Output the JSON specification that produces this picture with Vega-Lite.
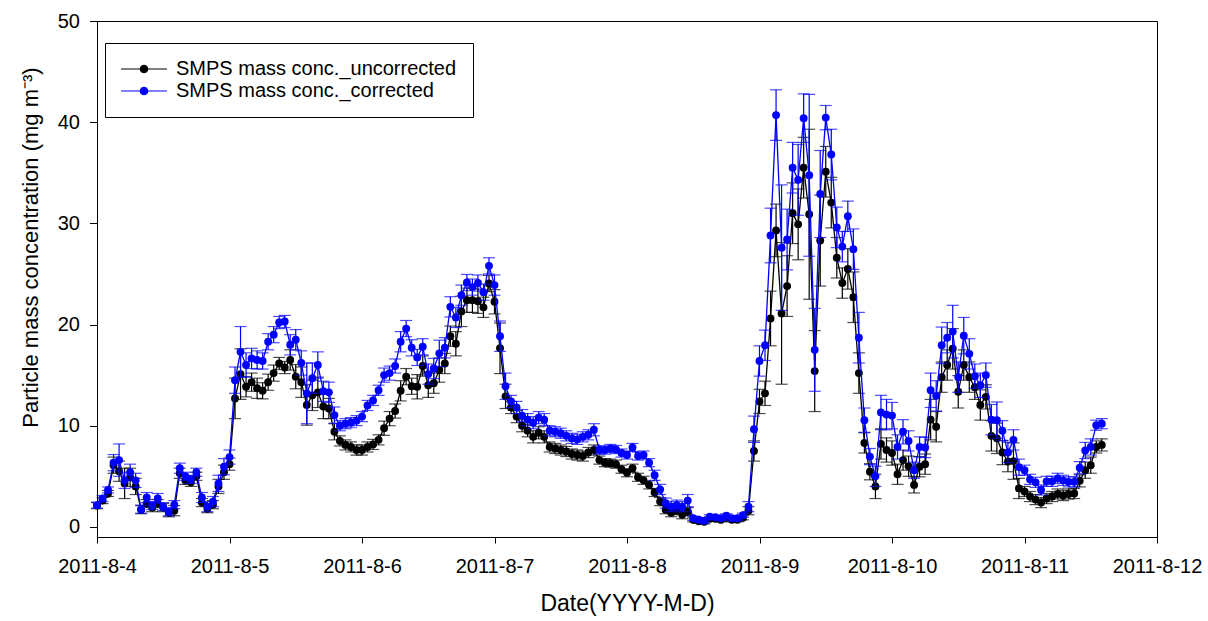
{
"$schema": "https://vega.github.io/schema/vega-lite/v6.json",
"width": 1060, "height": 516,
"autosize": {"type": "none"},
"padding": {"left": 97, "top": 21, "right": 51, "bottom": 84},
"background": "white",
"data": {"values": [
{"t":"2011-08-04T00:00","u":2.1,"ue":0.3,"c":2.15,"ce":0.3},
{"t":"2011-08-04T01:00","u":2.6,"ue":0.3,"c":2.8,"ce":0.3},
{"t":"2011-08-04T02:00","u":3.3,"ue":0.3,"c":3.65,"ce":0.3},
{"t":"2011-08-04T03:00","u":6.1,"ue":0.8,"c":6.35,"ce":0.8},
{"t":"2011-08-04T04:00","u":5.5,"ue":1.0,"c":6.6,"ce":1.6},
{"t":"2011-08-04T05:00","u":4.3,"ue":1.5,"c":4.6,"ce":0.8},
{"t":"2011-08-04T06:00","u":4.9,"ue":0.9,"c":5.4,"ce":0.8},
{"t":"2011-08-04T07:00","u":4.0,"ue":0.8,"c":4.6,"ce":0.7},
{"t":"2011-08-04T08:00","u":1.7,"ue":0.4,"c":1.75,"ce":0.4},
{"t":"2011-08-04T09:00","u":2.3,"ue":0.4,"c":2.9,"ce":0.5},
{"t":"2011-08-04T10:00","u":1.9,"ue":0.4,"c":2.1,"ce":0.4},
{"t":"2011-08-04T11:00","u":2.3,"ue":0.4,"c":2.8,"ce":0.5},
{"t":"2011-08-04T12:00","u":1.9,"ue":0.4,"c":2.0,"ce":0.4},
{"t":"2011-08-04T13:00","u":1.4,"ue":0.4,"c":1.5,"ce":0.4},
{"t":"2011-08-04T14:00","u":1.6,"ue":0.5,"c":2.2,"ce":0.4},
{"t":"2011-08-04T15:00","u":5.3,"ue":0.5,"c":5.8,"ce":0.5},
{"t":"2011-08-04T16:00","u":4.6,"ue":0.4,"c":5.0,"ce":0.4},
{"t":"2011-08-04T17:00","u":4.4,"ue":0.4,"c":4.7,"ce":0.4},
{"t":"2011-08-04T18:00","u":5.0,"ue":0.4,"c":5.4,"ce":0.4},
{"t":"2011-08-04T19:00","u":2.4,"ue":0.4,"c":2.9,"ce":0.5},
{"t":"2011-08-04T20:00","u":1.8,"ue":0.4,"c":2.0,"ce":0.5},
{"t":"2011-08-04T21:00","u":2.2,"ue":0.4,"c":2.5,"ce":0.5},
{"t":"2011-08-04T22:00","u":4.0,"ue":0.7,"c":4.3,"ce":0.8},
{"t":"2011-08-04T23:00","u":5.4,"ue":0.7,"c":5.95,"ce":0.8},
{"t":"2011-08-05T00:00","u":6.2,"ue":0.6,"c":6.9,"ce":0.7},
{"t":"2011-08-05T01:00","u":12.7,"ue":2.0,"c":14.5,"ce":1.3},
{"t":"2011-08-05T02:00","u":15.1,"ue":2.5,"c":17.3,"ce":2.5},
{"t":"2011-08-05T03:00","u":13.85,"ue":1.0,"c":16.0,"ce":1.2},
{"t":"2011-08-05T04:00","u":14.3,"ue":0.9,"c":16.65,"ce":1.0},
{"t":"2011-08-05T05:00","u":13.7,"ue":1.0,"c":16.5,"ce":0.9},
{"t":"2011-08-05T06:00","u":13.45,"ue":0.8,"c":16.4,"ce":0.8},
{"t":"2011-08-05T07:00","u":14.3,"ue":0.8,"c":18.3,"ce":0.8},
{"t":"2011-08-05T08:00","u":15.2,"ue":0.8,"c":19.0,"ce":0.8},
{"t":"2011-08-05T09:00","u":16.15,"ue":0.6,"c":20.2,"ce":0.6},
{"t":"2011-08-05T10:00","u":15.75,"ue":0.6,"c":20.3,"ce":0.6},
{"t":"2011-08-05T11:00","u":16.5,"ue":1.0,"c":18.0,"ce":1.0},
{"t":"2011-08-05T12:00","u":14.85,"ue":1.2,"c":18.5,"ce":1.0},
{"t":"2011-08-05T13:00","u":14.3,"ue":1.5,"c":16.2,"ce":1.2},
{"t":"2011-08-05T14:00","u":12.05,"ue":2.0,"c":13.2,"ce":3.0},
{"t":"2011-08-05T15:00","u":13.0,"ue":1.5,"c":14.7,"ce":1.5},
{"t":"2011-08-05T16:00","u":13.3,"ue":1.5,"c":16.0,"ce":1.3},
{"t":"2011-08-05T17:00","u":11.9,"ue":1.2,"c":13.4,"ce":1.0},
{"t":"2011-08-05T18:00","u":11.7,"ue":1.0,"c":13.3,"ce":1.0},
{"t":"2011-08-05T19:00","u":9.4,"ue":0.8,"c":11.05,"ce":0.8},
{"t":"2011-08-05T20:00","u":8.5,"ue":0.5,"c":10.0,"ce":0.5},
{"t":"2011-08-05T21:00","u":8.1,"ue":0.5,"c":10.2,"ce":0.5},
{"t":"2011-08-05T22:00","u":7.9,"ue":0.5,"c":10.3,"ce":0.5},
{"t":"2011-08-05T23:00","u":7.6,"ue":0.5,"c":10.5,"ce":0.5},
{"t":"2011-08-06T00:00","u":7.6,"ue":0.5,"c":10.9,"ce":0.5},
{"t":"2011-08-06T01:00","u":7.9,"ue":0.5,"c":12.0,"ce":0.5},
{"t":"2011-08-06T02:00","u":8.15,"ue":0.5,"c":12.5,"ce":0.5},
{"t":"2011-08-06T03:00","u":8.6,"ue":0.5,"c":13.5,"ce":0.5},
{"t":"2011-08-06T04:00","u":9.75,"ue":0.7,"c":15.0,"ce":0.7},
{"t":"2011-08-06T05:00","u":10.7,"ue":0.7,"c":15.2,"ce":0.7},
{"t":"2011-08-06T06:00","u":11.45,"ue":0.7,"c":15.9,"ce":0.7},
{"t":"2011-08-06T07:00","u":13.45,"ue":1.0,"c":18.3,"ce":1.0},
{"t":"2011-08-06T08:00","u":14.85,"ue":0.8,"c":19.6,"ce":0.8},
{"t":"2011-08-06T09:00","u":13.9,"ue":0.8,"c":17.7,"ce":0.8},
{"t":"2011-08-06T10:00","u":13.85,"ue":1.2,"c":16.75,"ce":0.8},
{"t":"2011-08-06T11:00","u":15.9,"ue":1.0,"c":17.8,"ce":0.8},
{"t":"2011-08-06T12:00","u":14.0,"ue":1.2,"c":15.1,"ce":1.0},
{"t":"2011-08-06T13:00","u":14.2,"ue":1.0,"c":15.65,"ce":1.0},
{"t":"2011-08-06T14:00","u":15.5,"ue":1.2,"c":17.15,"ce":1.3},
{"t":"2011-08-06T15:00","u":16.15,"ue":1.0,"c":17.7,"ce":1.0},
{"t":"2011-08-06T16:00","u":18.85,"ue":1.0,"c":21.75,"ce":1.0},
{"t":"2011-08-06T17:00","u":18.1,"ue":1.2,"c":20.7,"ce":1.0},
{"t":"2011-08-06T18:00","u":21.3,"ue":1.5,"c":22.9,"ce":1.0},
{"t":"2011-08-06T19:00","u":22.4,"ue":1.2,"c":24.15,"ce":0.8},
{"t":"2011-08-06T20:00","u":22.4,"ue":1.2,"c":23.7,"ce":0.8},
{"t":"2011-08-06T21:00","u":22.3,"ue":1.2,"c":24.1,"ce":0.8},
{"t":"2011-08-06T22:00","u":21.7,"ue":1.0,"c":23.2,"ce":0.8},
{"t":"2011-08-06T23:00","u":24.05,"ue":0.8,"c":25.8,"ce":0.8},
{"t":"2011-08-07T00:00","u":22.25,"ue":1.2,"c":23.9,"ce":1.0},
{"t":"2011-08-07T01:00","u":17.65,"ue":2.5,"c":18.85,"ce":1.5},
{"t":"2011-08-07T02:00","u":12.9,"ue":1.2,"c":13.9,"ce":1.3},
{"t":"2011-08-07T03:00","u":11.8,"ue":0.6,"c":12.4,"ce":0.6},
{"t":"2011-08-07T04:00","u":10.9,"ue":0.6,"c":11.8,"ce":0.6},
{"t":"2011-08-07T05:00","u":10.0,"ue":0.6,"c":11.0,"ce":0.6},
{"t":"2011-08-07T06:00","u":9.5,"ue":0.6,"c":10.6,"ce":0.6},
{"t":"2011-08-07T07:00","u":8.9,"ue":0.6,"c":10.3,"ce":0.6},
{"t":"2011-08-07T08:00","u":9.3,"ue":0.6,"c":10.8,"ce":0.6},
{"t":"2011-08-07T09:00","u":8.9,"ue":0.6,"c":10.6,"ce":0.6},
{"t":"2011-08-07T10:00","u":7.9,"ue":0.5,"c":9.5,"ce":0.5},
{"t":"2011-08-07T11:00","u":7.75,"ue":0.5,"c":9.4,"ce":0.5},
{"t":"2011-08-07T12:00","u":7.6,"ue":0.5,"c":9.25,"ce":0.5},
{"t":"2011-08-07T13:00","u":7.45,"ue":0.5,"c":9.0,"ce":0.5},
{"t":"2011-08-07T14:00","u":7.2,"ue":0.5,"c":8.75,"ce":0.5},
{"t":"2011-08-07T15:00","u":7.1,"ue":0.5,"c":8.65,"ce":0.5},
{"t":"2011-08-07T16:00","u":7.0,"ue":0.5,"c":8.9,"ce":0.5},
{"t":"2011-08-07T17:00","u":7.35,"ue":0.5,"c":9.1,"ce":0.5},
{"t":"2011-08-07T18:00","u":7.6,"ue":0.5,"c":9.6,"ce":0.6},
{"t":"2011-08-07T19:00","u":6.6,"ue":0.4,"c":7.6,"ce":0.4},
{"t":"2011-08-07T20:00","u":6.35,"ue":0.4,"c":7.6,"ce":0.4},
{"t":"2011-08-07T21:00","u":6.3,"ue":0.4,"c":7.75,"ce":0.4},
{"t":"2011-08-07T22:00","u":6.2,"ue":0.4,"c":7.65,"ce":0.4},
{"t":"2011-08-07T23:00","u":5.7,"ue":0.4,"c":7.3,"ce":0.4},
{"t":"2011-08-08T00:00","u":5.35,"ue":0.4,"c":7.1,"ce":0.4},
{"t":"2011-08-08T01:00","u":5.8,"ue":0.4,"c":7.85,"ce":0.4},
{"t":"2011-08-08T02:00","u":4.9,"ue":0.4,"c":7.0,"ce":0.4},
{"t":"2011-08-08T03:00","u":4.6,"ue":0.4,"c":7.1,"ce":0.4},
{"t":"2011-08-08T04:00","u":4.15,"ue":0.4,"c":6.35,"ce":0.4},
{"t":"2011-08-08T05:00","u":3.4,"ue":0.4,"c":5.1,"ce":0.5},
{"t":"2011-08-08T06:00","u":2.5,"ue":0.4,"c":3.7,"ce":0.5},
{"t":"2011-08-08T07:00","u":1.7,"ue":0.4,"c":2.35,"ce":0.5},
{"t":"2011-08-08T08:00","u":1.4,"ue":0.4,"c":2.0,"ce":0.5},
{"t":"2011-08-08T09:00","u":1.6,"ue":0.4,"c":2.15,"ce":0.5},
{"t":"2011-08-08T10:00","u":1.2,"ue":0.4,"c":2.0,"ce":0.5},
{"t":"2011-08-08T11:00","u":1.5,"ue":0.4,"c":2.6,"ce":0.6},
{"t":"2011-08-08T12:00","u":0.7,"ue":0.2,"c":0.85,"ce":0.2},
{"t":"2011-08-08T13:00","u":0.55,"ue":0.2,"c":0.7,"ce":0.2},
{"t":"2011-08-08T14:00","u":0.5,"ue":0.2,"c":0.6,"ce":0.2},
{"t":"2011-08-08T15:00","u":0.8,"ue":0.2,"c":1.0,"ce":0.2},
{"t":"2011-08-08T16:00","u":0.8,"ue":0.2,"c":0.95,"ce":0.2},
{"t":"2011-08-08T17:00","u":0.7,"ue":0.2,"c":0.85,"ce":0.2},
{"t":"2011-08-08T18:00","u":0.9,"ue":0.2,"c":1.1,"ce":0.2},
{"t":"2011-08-08T19:00","u":0.7,"ue":0.2,"c":0.85,"ce":0.2},
{"t":"2011-08-08T20:00","u":0.7,"ue":0.2,"c":0.85,"ce":0.2},
{"t":"2011-08-08T21:00","u":0.9,"ue":0.2,"c":1.15,"ce":0.2},
{"t":"2011-08-08T22:00","u":1.6,"ue":0.4,"c":2.0,"ce":0.5},
{"t":"2011-08-08T23:00","u":7.5,"ue":1.0,"c":9.65,"ce":1.3},
{"t":"2011-08-09T00:00","u":12.4,"ue":1.2,"c":16.4,"ce":1.5},
{"t":"2011-08-09T01:00","u":13.2,"ue":1.2,"c":17.95,"ce":1.5},
{"t":"2011-08-09T02:00","u":20.6,"ue":2.7,"c":28.8,"ce":2.7},
{"t":"2011-08-09T03:00","u":29.3,"ue":2.6,"c":40.7,"ce":2.5},
{"t":"2011-08-09T04:00","u":21.1,"ue":7.0,"c":27.6,"ce":6.2},
{"t":"2011-08-09T05:00","u":23.8,"ue":3.0,"c":28.4,"ce":3.0},
{"t":"2011-08-09T06:00","u":31.0,"ue":3.0,"c":35.5,"ce":2.5},
{"t":"2011-08-09T07:00","u":29.9,"ue":3.5,"c":34.3,"ce":3.5},
{"t":"2011-08-09T08:00","u":35.5,"ue":3.0,"c":40.4,"ce":2.4},
{"t":"2011-08-09T09:00","u":30.9,"ue":8.4,"c":34.75,"ce":8.0},
{"t":"2011-08-09T10:00","u":15.4,"ue":4.0,"c":17.5,"ce":4.1},
{"t":"2011-08-09T11:00","u":28.3,"ue":4.5,"c":32.9,"ce":4.3},
{"t":"2011-08-09T12:00","u":35.1,"ue":2.5,"c":40.45,"ce":1.2},
{"t":"2011-08-09T13:00","u":32.05,"ue":2.5,"c":36.8,"ce":2.5},
{"t":"2011-08-09T14:00","u":26.6,"ue":2.0,"c":29.6,"ce":2.0},
{"t":"2011-08-09T15:00","u":24.1,"ue":1.5,"c":27.7,"ce":1.5},
{"t":"2011-08-09T16:00","u":25.5,"ue":2.0,"c":30.7,"ce":1.5},
{"t":"2011-08-09T17:00","u":22.7,"ue":2.5,"c":27.45,"ce":2.0},
{"t":"2011-08-09T18:00","u":15.2,"ue":2.0,"c":18.7,"ce":2.5},
{"t":"2011-08-09T19:00","u":8.3,"ue":1.0,"c":10.55,"ce":1.2},
{"t":"2011-08-09T20:00","u":5.45,"ue":0.8,"c":6.95,"ce":0.8},
{"t":"2011-08-09T21:00","u":4.0,"ue":1.2,"c":5.0,"ce":1.0},
{"t":"2011-08-09T22:00","u":8.2,"ue":1.5,"c":11.3,"ce":1.7},
{"t":"2011-08-09T23:00","u":7.6,"ue":1.2,"c":11.1,"ce":1.5},
{"t":"2011-08-10T00:00","u":7.3,"ue":1.2,"c":11.0,"ce":1.3},
{"t":"2011-08-10T01:00","u":5.2,"ue":1.0,"c":7.9,"ce":1.2},
{"t":"2011-08-10T02:00","u":6.6,"ue":1.0,"c":9.4,"ce":1.2},
{"t":"2011-08-10T03:00","u":6.0,"ue":1.0,"c":8.5,"ce":1.0},
{"t":"2011-08-10T04:00","u":4.15,"ue":0.8,"c":5.6,"ce":0.8},
{"t":"2011-08-10T05:00","u":5.95,"ue":1.0,"c":7.9,"ce":1.0},
{"t":"2011-08-10T06:00","u":6.2,"ue":1.0,"c":7.85,"ce":1.0},
{"t":"2011-08-10T07:00","u":10.6,"ue":2.0,"c":13.5,"ce":1.7},
{"t":"2011-08-10T08:00","u":9.9,"ue":1.5,"c":12.95,"ce":1.5},
{"t":"2011-08-10T09:00","u":14.8,"ue":1.5,"c":17.95,"ce":1.8},
{"t":"2011-08-10T10:00","u":16.0,"ue":1.5,"c":18.7,"ce":1.5},
{"t":"2011-08-10T11:00","u":17.6,"ue":2.0,"c":19.3,"ce":2.6},
{"t":"2011-08-10T12:00","u":13.35,"ue":1.6,"c":14.8,"ce":1.5},
{"t":"2011-08-10T13:00","u":16.0,"ue":1.5,"c":18.9,"ce":1.8},
{"t":"2011-08-10T14:00","u":14.8,"ue":1.5,"c":17.1,"ce":1.5},
{"t":"2011-08-10T15:00","u":13.8,"ue":1.2,"c":14.9,"ce":1.2},
{"t":"2011-08-10T16:00","u":12.05,"ue":1.5,"c":14.0,"ce":1.2},
{"t":"2011-08-10T17:00","u":12.85,"ue":1.2,"c":15.0,"ce":1.2},
{"t":"2011-08-10T18:00","u":9.0,"ue":1.5,"c":10.6,"ce":1.5},
{"t":"2011-08-10T19:00","u":8.75,"ue":1.5,"c":10.55,"ce":1.8},
{"t":"2011-08-10T20:00","u":7.35,"ue":1.2,"c":9.5,"ce":1.0},
{"t":"2011-08-10T21:00","u":6.45,"ue":1.0,"c":7.35,"ce":1.0},
{"t":"2011-08-10T22:00","u":6.5,"ue":1.8,"c":8.6,"ce":1.0},
{"t":"2011-08-10T23:00","u":3.8,"ue":1.0,"c":5.9,"ce":0.8},
{"t":"2011-08-11T00:00","u":3.5,"ue":0.5,"c":5.6,"ce":0.5},
{"t":"2011-08-11T01:00","u":3.0,"ue":0.5,"c":4.7,"ce":0.5},
{"t":"2011-08-11T02:00","u":2.7,"ue":0.5,"c":4.4,"ce":0.5},
{"t":"2011-08-11T03:00","u":2.4,"ue":0.5,"c":3.65,"ce":0.5},
{"t":"2011-08-11T04:00","u":2.8,"ue":0.5,"c":4.5,"ce":0.5},
{"t":"2011-08-11T05:00","u":3.0,"ue":0.5,"c":4.5,"ce":0.5},
{"t":"2011-08-11T06:00","u":3.25,"ue":0.5,"c":4.8,"ce":0.5},
{"t":"2011-08-11T07:00","u":3.1,"ue":0.5,"c":4.6,"ce":0.5},
{"t":"2011-08-11T08:00","u":3.25,"ue":0.5,"c":4.45,"ce":0.5},
{"t":"2011-08-11T09:00","u":3.3,"ue":0.5,"c":4.45,"ce":0.5},
{"t":"2011-08-11T10:00","u":4.55,"ue":0.6,"c":5.85,"ce":0.6},
{"t":"2011-08-11T11:00","u":5.6,"ue":0.8,"c":7.55,"ce":0.8},
{"t":"2011-08-11T12:00","u":6.1,"ue":0.8,"c":7.9,"ce":0.8},
{"t":"2011-08-11T13:00","u":7.9,"ue":0.6,"c":10.05,"ce":0.5},
{"t":"2011-08-11T14:00","u":8.1,"ue":0.6,"c":10.2,"ce":0.5}
]},
"encoding": {
  "x": {"field": "t", "type": "temporal",
    "scale": {"domain": [{"year": 2011, "month": 8, "date": 4}, {"year": 2011, "month": 8, "date": 12}], "nice": false},
    "axis": {"title": "Date(YYYY-M-D)", "format": "%Y-%-m-%-d",
      "values": [{"year": 2011, "month": 8, "date": 4}, {"year": 2011, "month": 8, "date": 5}, {"year": 2011, "month": 8, "date": 6}, {"year": 2011, "month": 8, "date": 7}, {"year": 2011, "month": 8, "date": 8}, {"year": 2011, "month": 8, "date": 9}, {"year": 2011, "month": 8, "date": 10}, {"year": 2011, "month": 8, "date": 11}, {"year": 2011, "month": 8, "date": 12}]}}
},
"layer": [
  {"mark": {"type": "errorbar", "ticks": {"size": 12}, "thickness": 1.2},
   "encoding": {
     "y": {"field": "u", "type": "quantitative", "scale": {"domain": [-1, 50], "nice": false, "zero": false}, "title": "Particle mass concentration (mg m⁻³)", "axis": {"values": [0, 10, 20, 30, 40, 50]}},
     "yError": {"field": "ue"},
     "color": {"datum": "SMPS mass conc._uncorrected", "type": "nominal",
       "scale": {"domain": ["SMPS mass conc._uncorrected", "SMPS mass conc._corrected"], "range": ["#000000", "#0000ff"]},
       "legend": {"title": null, "orient": "none", "legendX": 8, "legendY": 22, "strokeColor": "black", "fillColor": "white", "padding": 16, "labelFontSize": 20, "labelFont": "Liberation Sans", "labelColor": "black", "labelLimit": 500, "symbolType": "M-4,0L4,0M-0.65,0A0.65,0.65 0 1,1 0.65,0A0.65,0.65 0 1,1 -0.65,0Z", "symbolSize": 132, "symbolStrokeWidth": 1.2, "symbolOffset": 13, "labelOffset": 22, "rowPadding": 2,
         "encode": {"symbols": {"update": {"fill": {"scale": "color", "field": "value"}, "stroke": {"scale": "color", "field": "value"}, "opacity": {"value": 1}}}}}}}},
  {"mark": {"type": "line", "strokeWidth": 1.3, "point": {"filled": true, "size": 62, "opacity": 1}},
   "encoding": {
     "y": {"field": "u", "type": "quantitative", "scale": {"domain": [-1, 50], "nice": false, "zero": false}, "title": "Particle mass concentration (mg m⁻³)", "axis": {"values": [0, 10, 20, 30, 40, 50]}},
     "color": {"datum": "SMPS mass conc._uncorrected", "type": "nominal"}}},
  {"mark": {"type": "errorbar", "ticks": {"size": 12}, "thickness": 1.2},
   "encoding": {
     "y": {"field": "c", "type": "quantitative", "scale": {"domain": [-1, 50], "nice": false, "zero": false}, "title": "Particle mass concentration (mg m⁻³)", "axis": {"values": [0, 10, 20, 30, 40, 50]}},
     "yError": {"field": "ce"},
     "color": {"datum": "SMPS mass conc._corrected", "type": "nominal"}}},
  {"mark": {"type": "line", "strokeWidth": 1.3, "point": {"filled": true, "size": 62, "opacity": 1}},
   "encoding": {
     "y": {"field": "c", "type": "quantitative", "scale": {"domain": [-1, 50], "nice": false, "zero": false}, "title": "Particle mass concentration (mg m⁻³)", "axis": {"values": [0, 10, 20, 30, 40, 50]}},
     "color": {"datum": "SMPS mass conc._corrected", "type": "nominal"}}}
],
"config": {
  "font": "Liberation Sans",
  "view": {"stroke": "black", "strokeWidth": 1},
  "axis": {"grid": false, "domainColor": "black", "tickColor": "black", "labelColor": "black", "titleColor": "black", "labelFont": "Liberation Sans", "titleFont": "Liberation Sans", "labelFontSize": 20, "titleFontWeight": "normal", "domainWidth": 1, "tickWidth": 1},
  "axisX": {"tickSize": 6, "labelPadding": 29, "labelBaseline": "alphabetic", "labelFlush": false, "labelOverlap": false, "titleFontSize": 23, "titleBaseline": "alphabetic", "titleY": 73},
  "axisY": {"tickSize": 7.5, "labelPadding": 10, "titleFontSize": 22, "titleX": -60, "titleY": 226, "titleAngle": -90, "titleAlign": "center", "titleBaseline": "alphabetic"}
}
}
